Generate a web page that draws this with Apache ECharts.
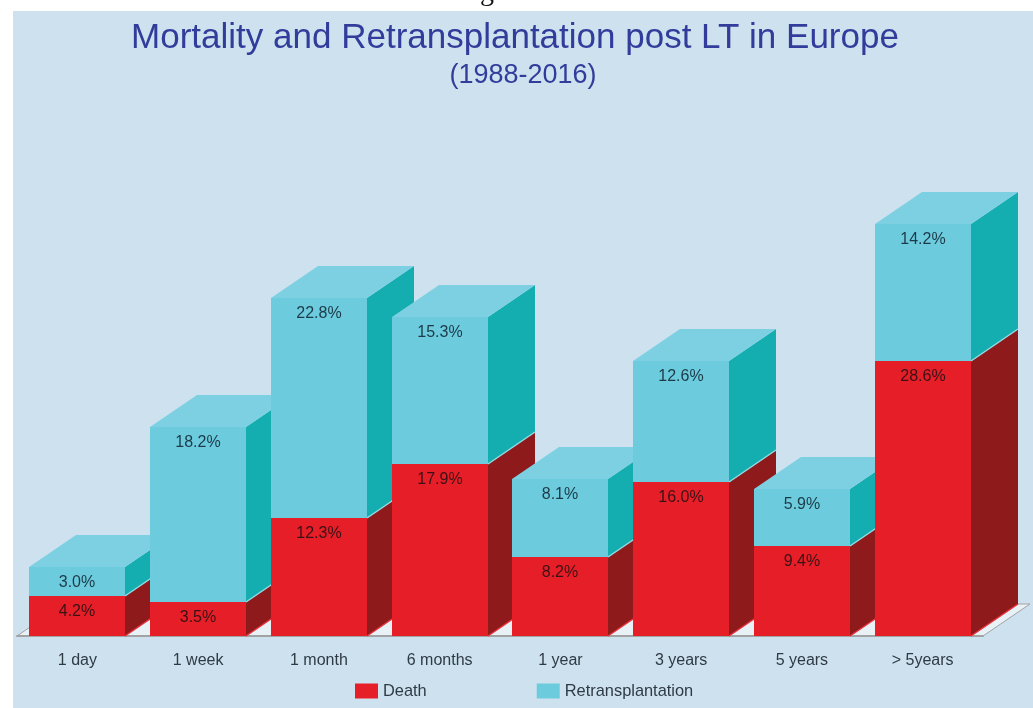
<!DOCTYPE html>
<html>
<head>
    <meta charset="UTF-8">
    <title>Mortality and Retransplantation post LT in Europe</title>
    <script src="https://cdn.jsdelivr.net/npm/echarts@6/dist/echarts.min.js"></script>
    <style>
        html, body { margin: 0; padding: 0; background: #fff; }
        #main { width: 1033px; height: 708px; }
    </style>
</head>
<body>
<div id="main"></div>
<script type="text/javascript">
    var categories = ['1 day', '1 week', '1 month', '6 months', '1 year', '3 years', '5 years', '> 5years'];
    var death = [4.2, 3.5, 12.3, 17.9, 8.2, 16.0, 9.4, 28.6];
    var retransplantation = [3.0, 18.2, 22.8, 15.3, 8.1, 12.6, 5.9, 14.2];

    var FONT = '"Liberation Sans", Arial, sans-serif';
    var DX = 47, DY = -32; // 3d depth of the bars
    var BAR_W = 96;

    // one stacked block: side, top, front and the % label
    function block(api, order, colors, showTop) {
        var i = api.value(0);
        var low = api.coord([i, api.value(2)]);
        var high = api.coord([i, api.value(2) + api.value(1)]);
        var l = Math.round(low[0] - BAR_W / 2), r = l + BAR_W;
        var y0 = Math.round(low[1]), y1 = Math.round(high[1]);
        var z = i * 10 + order;
        var children = [
            {
                type: 'polygon', z2: z,
                shape: { points: [[r, y0], [r + DX, y0 + DY], [r + DX, y1 + DY], [r, y1]] },
                style: { fill: colors.side }
            },
            {
                // lighter bottom edge of the side face
                type: 'line', z2: z,
                shape: { x1: r, y1: y0, x2: r + DX, y2: y0 + DY },
                style: { stroke: colors.edge, lineWidth: 1.5 }
            },
            {
                type: 'rect', z2: z + 1,
                shape: { x: l, y: y1, width: BAR_W, height: y0 - y1 },
                style: { fill: colors.front }
            },
            {
                type: 'text', z2: z + 3,
                style: {
                    x: (l + r) / 2, y: y1 + 16, text: api.value(1).toFixed(1) + '%',
                    align: 'center', verticalAlign: 'middle',
                    fill: colors.label, font: '16px ' + FONT
                }
            }
        ];
        if (showTop) {
            children.push({
                type: 'polygon', z2: z + 2,
                shape: { points: [[l, y1], [l + DX, y1 + DY], [r + DX, y1 + DY], [r, y1]] },
                style: { fill: colors.top }
            });
        }
        return { type: 'group', children: children };
    }

    var deathData = death.map(function (v, i) { return [i, v, 0]; });
    var retransData = retransplantation.map(function (v, i) { return [i, v, death[i]]; });

    var myChart = echarts.init(document.getElementById('main'), null, { renderer: 'canvas' });
    var option = {
        animation: false,
        backgroundColor: '#fff',
        graphic: [
            { type: 'rect', z: -10, shape: { x: 13, y: 11, width: 1020, height: 697 }, style: { fill: '#cde2ee' } },
            { type: 'text', z: 0, style: { x: 480, y: 7, text: 'gure', verticalAlign: 'bottom', fill: '#111', font: '28px "Liberation Serif", serif' } },
            { type: 'text', z: 0, style: { x: 515, y: 38, text: 'Mortality and Retransplantation post LT in Europe', align: 'center', verticalAlign: 'middle', fill: '#323c9b', font: '35px ' + FONT } },
            { type: 'text', z: 0, style: { x: 523, y: 76, text: '(1988-2016)', align: 'center', verticalAlign: 'middle', fill: '#323c9b', font: '27px ' + FONT } }
        ],
        grid: { left: 17, width: 966, top: 155, height: 481 },
        legend: {
            top: 678, left: 350, itemGap: 110, itemWidth: 23, itemHeight: 15, itemTextGap: 8,
            icon: 'rect',
            data: ['Death', 'Retransplantation'],
            textStyle: { fontFamily: FONT, fontSize: 16.4, color: '#2f3a44' }
        },
        xAxis: {
            type: 'category', data: categories,
            axisTick: { show: false },
            axisLine: { lineStyle: { color: '#a3a3a3', width: 2 } },
            axisLabel: { interval: 0, margin: 17, fontFamily: FONT, fontSize: 16, color: '#2f3a44' },
            z: 1
        },
        yAxis: { type: 'value', min: 0, max: 50, show: false, splitLine: { show: false } },
        series: [
            {
                type: 'custom', name: 'floor', coordinateSystem: 'cartesian2d', z: 1,
                data: [[0]], silent: true,
                renderItem: function (params, api) {
                    var g = params.coordSys, y = g.y + g.height;
                    return {
                        type: 'polygon',
                        shape: { points: [[g.x, y], [g.x + g.width, y], [g.x + g.width + DX, y + DY], [g.x + DX, y + DY]] },
                        style: { fill: '#e8f1f6', stroke: '#a3a3a3', lineWidth: 1 }
                    };
                }
            },
            {
                type: 'custom', name: 'Death', coordinateSystem: 'cartesian2d', z: 3,
                itemStyle: { color: '#e61e28' },
                data: deathData,
                renderItem: function (params, api) {
                    return block(api, 0, { front: '#e61e28', side: '#8f1a1c', edge: '#e8323a', label: '#3a1216' }, false);
                }
            },
            {
                type: 'custom', name: 'Retransplantation', coordinateSystem: 'cartesian2d', z: 3,
                itemStyle: { color: '#6ccbdd' },
                data: retransData,
                renderItem: function (params, api) {
                    return block(api, 5, { front: '#6ccbdd', side: '#14aeb0', top: '#7dd0e2', edge: '#8fdbe4', label: '#1c3a48' }, true);
                }
            }
        ]
    };
    myChart.setOption(option);
</script>
</body>
</html>
